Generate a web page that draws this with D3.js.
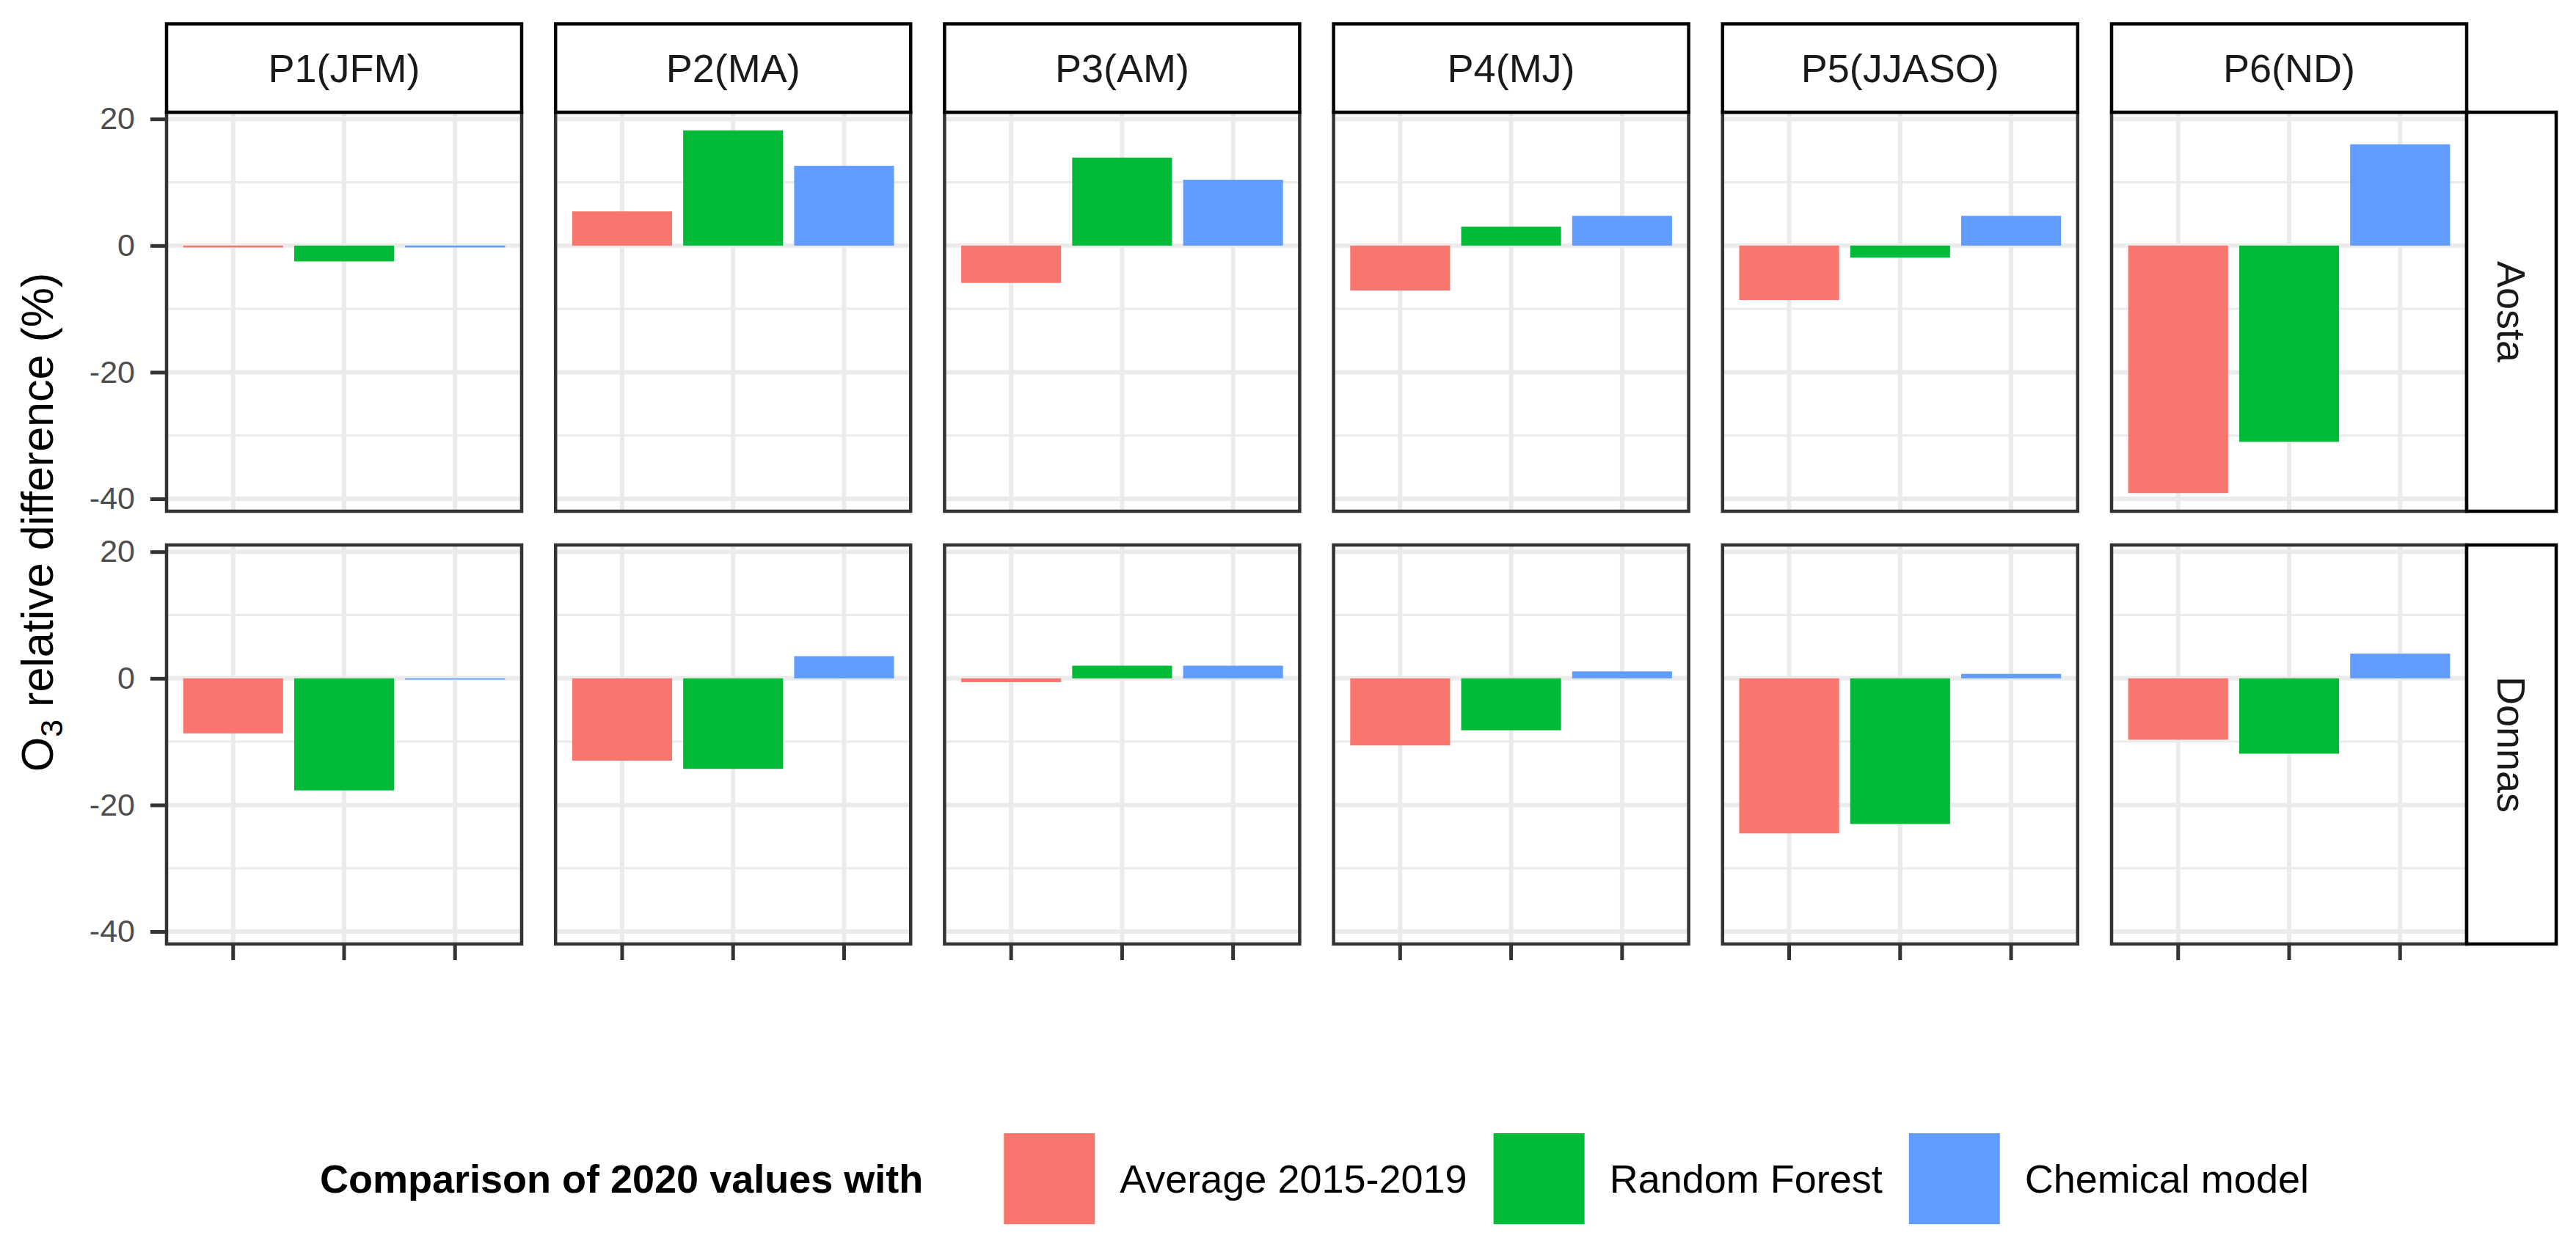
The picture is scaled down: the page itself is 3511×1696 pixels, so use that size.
<!DOCTYPE html>
<html>
<head>
<meta charset="utf-8">
<script src="https://cdn.jsdelivr.net/npm/d3@7"></script>
<style>
body { margin: 0; background: #fff; }
svg { display: block; font-family: "Liberation Sans", Arial, sans-serif; }
</style>
</head>
<body>
<svg id="chart" width="3511" height="1696"></svg>
<script>
// values (% relative difference of O3)
var periods = ["P1(JFM)", "P2(MA)", "P3(AM)", "P4(MJ)", "P5(JJASO)", "P6(ND)"];
var sites = ["Aosta", "Donnas"];
var methods = ["Average 2015-2019", "Random Forest", "Chemical model"];
var methodColors = ["#F8766D", "#00BA38", "#619CFF"];

var aostaAverage   = [-0.3, 5.4, -5.9, -7.1, -8.6, -39.1];
var aostaForest    = [-2.5, 18.2, 13.9, 3.0, -1.9, -31.0];
var aostaChemical  = [-0.3, 12.6, 10.4, 4.7, 4.7, 16.0];
var donnasAverage  = [-8.7, -13.0, -0.6, -10.6, -24.5, -9.7];
var donnasForest   = [-17.7, -14.3, 2.0, -8.2, -23.0, -11.9];
var donnasChemical = [-0.2, 3.5, 2.0, 1.1, 0.7, 3.9];

var yTicks = [-40, -20, 0, 20];
var yMinorTicks = [-30, -10, 10];
var legendTitle = "Comparison of 2020 values with";

var seriesBySite = {
    "Aosta": [aostaAverage, aostaForest, aostaChemical],
    "Donnas": [donnasAverage, donnasForest, donnasChemical]
};

var rows = [];
sites.forEach(function (site) {
    periods.forEach(function (period, p) {
        methods.forEach(function (method, m) {
            rows.push({site: site, period: period, method: method, value: seriesBySite[site][m][p]});
        });
    });
});

// layout
var panelLeft = 227, panelTop = 153;
var panelW = 484, panelH = 544;
var colStep = 530.2, rowStep = 590;
var stripTop = 32.5, stripH = panelTop - stripTop;
var sideStripW = 122;
var gridCol = "#EBEBEB", borderCol = "#333333";

var svg = d3.select("#chart");

// shared y scale with ggplot-like 5% expansion
var ext = d3.extent(rows, function (d) { return d.value; });
var pad = (ext[1] - ext[0]) * 0.05;
var y = d3.scaleLinear().domain([ext[0] - pad, ext[1] + pad]).range([panelH, 0]);
var x = d3.scaleBand().domain(methods).range([0, panelW]).paddingInner(0.1).paddingOuter(0.15);
var color = d3.scaleOrdinal().domain(methods).range(methodColors);

sites.forEach(function (site, r) {
    periods.forEach(function (period, c) {
        var g = svg.append("g")
            .attr("transform", "translate(" + (panelLeft + c * colStep) + "," + (panelTop + r * rowStep) + ")");

        g.append("rect").attr("width", panelW).attr("height", panelH).attr("fill", "#fff");

        // grid
        g.selectAll(".minor").data(yMinorTicks).enter().append("line")
            .attr("x1", 0).attr("x2", panelW)
            .attr("y1", function (d) { return y(d); }).attr("y2", function (d) { return y(d); })
            .attr("stroke", gridCol).attr("stroke-width", 3);
        g.selectAll(".major").data(yTicks).enter().append("line")
            .attr("x1", 0).attr("x2", panelW)
            .attr("y1", function (d) { return y(d); }).attr("y2", function (d) { return y(d); })
            .attr("stroke", gridCol).attr("stroke-width", 6);
        g.selectAll(".vgrid").data(methods).enter().append("line")
            .attr("x1", function (d) { return x(d) + x.bandwidth() / 2; })
            .attr("x2", function (d) { return x(d) + x.bandwidth() / 2; })
            .attr("y1", 0).attr("y2", panelH)
            .attr("stroke", gridCol).attr("stroke-width", 6);

        // bars
        var data = rows.filter(function (d) { return d.site === site && d.period === period; });
        g.selectAll(".bar").data(data).enter().append("rect")
            .attr("x", function (d) { return x(d.method); })
            .attr("width", x.bandwidth())
            .attr("y", function (d) { return y(Math.max(0, d.value)); })
            .attr("height", function (d) { return Math.abs(y(d.value) - y(0)); })
            .attr("fill", function (d) { return color(d.method); });

        g.append("rect").attr("width", panelW).attr("height", panelH)
            .attr("fill", "none").attr("stroke", borderCol).attr("stroke-width", 4.5);

        if (c === 0) {
            var ya = g.append("g")
                .call(d3.axisLeft(y).tickValues(yTicks).tickSize(22).tickPadding(21)
                    .tickFormat(function (d) { return String(d); }));
            ya.select(".domain").remove();
            ya.selectAll("line").attr("stroke", borderCol).attr("stroke-width", 5);
            ya.selectAll("text").attr("fill", "#4D4D4D").style("font-size", "43px")
                .style("font-family", "Liberation Sans, Arial, sans-serif");
        }
        if (r === sites.length - 1) {
            var xa = g.append("g").attr("transform", "translate(0," + panelH + ")")
                .call(d3.axisBottom(x).tickSize(22).tickFormat(""));
            xa.select(".domain").remove();
            xa.selectAll("line").attr("stroke", borderCol).attr("stroke-width", 5);
        }
    });
});

// top strips
periods.forEach(function (period, c) {
    var sx = panelLeft + c * colStep;
    svg.append("rect").attr("x", sx).attr("y", stripTop).attr("width", panelW).attr("height", stripH)
        .attr("fill", "#fff").attr("stroke", "#000").attr("stroke-width", 4.5);
    svg.append("text").attr("x", sx + panelW / 2).attr("y", stripTop + stripH / 2)
        .attr("text-anchor", "middle").attr("dominant-baseline", "central")
        .style("font-size", "54px").attr("fill", "#1A1A1A").text(period);
});

// side strips
var sideX = panelLeft + (periods.length - 1) * colStep + panelW;
sites.forEach(function (site, r) {
    var sy = panelTop + r * rowStep;
    svg.append("rect").attr("x", sideX).attr("y", sy).attr("width", sideStripW).attr("height", panelH)
        .attr("fill", "#fff").attr("stroke", "#000").attr("stroke-width", 4.5);
    svg.append("text")
        .attr("transform", "translate(" + (sideX + sideStripW / 2) + "," + (sy + panelH / 2) + ") rotate(90)")
        .attr("text-anchor", "middle").attr("dominant-baseline", "central")
        .style("font-size", "54px").attr("fill", "#1A1A1A").text(site);
});

// y axis title
var plotMid = (panelTop + panelTop + rowStep + panelH) / 2;
var yt = svg.append("text")
    .attr("transform", "translate(72," + (plotMid - 8) + ") rotate(-90)")
    .attr("text-anchor", "middle").style("font-size", "61px").attr("fill", "#000");
yt.append("tspan").text("O");
yt.append("tspan").text("3").style("font-size", "43px").attr("dy", "0.3em");
yt.append("tspan").text(" relative difference (%)").attr("dy", "-0.21em");

// legend
var legY = 1607, keySize = 124;
var lg = svg.append("g");
var lt = lg.append("text").attr("x", 436).attr("y", legY).attr("dominant-baseline", "central")
    .style("font-size", "54px").style("font-weight", "bold").attr("fill", "#000").text(legendTitle);
var cursor = 436 + lt.node().getComputedTextLength() + 110;
methods.forEach(function (m) {
    lg.append("rect").attr("x", cursor).attr("y", legY - keySize / 2)
        .attr("width", keySize).attr("height", keySize).attr("fill", color(m));
    var t = lg.append("text").attr("x", cursor + keySize + 34).attr("y", legY)
        .attr("dominant-baseline", "central").style("font-size", "54px").attr("fill", "#000").text(m);
    cursor += keySize + 34 + t.node().getComputedTextLength() + 36;
});
</script>
</body>
</html>
